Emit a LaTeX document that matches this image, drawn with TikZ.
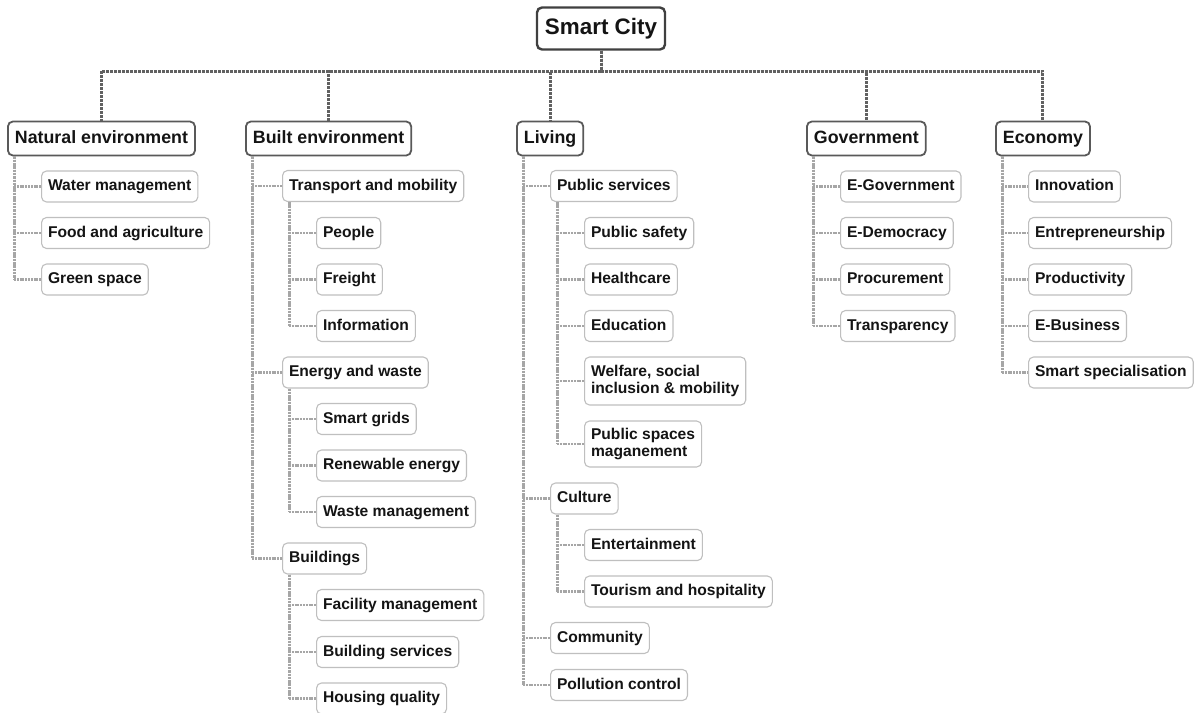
\documentclass[tikz,border=0pt]{standalone}
\usepackage{fontspec}
\setmainfont{Liberation Sans}
\begin{document}
\begin{tikzpicture}[x=1pt,y=-1pt,
  rootbox/.style={draw=black!75, line width=2.4pt, rounded corners=5pt, fill=white, text=black!92,
    font=\fontsize{22.4}{26}\selectfont\bfseries, inner xsep=8pt, minimum height=42pt,
    text height=16pt, text depth=4.5pt},
  topbox/.style={draw=black!65, line width=1.8pt, rounded corners=5pt, fill=white, text=black!92,
    font=\fontsize{17.8}{20}\selectfont\bfseries, inner xsep=7pt, minimum height=34pt, anchor=west,
    text height=13pt, text depth=3.6pt},
  leaf/.style={draw=black!25, line width=1.1pt, rounded corners=5pt, fill=white, text=black!92,
    font=\fontsize{15.6}{16.5}\selectfont\bfseries, inner xsep=6.5pt, minimum height=31pt, anchor=west, align=left,
    text height=11.4pt, text depth=3.2pt},
  twoline/.style={text height=, text depth=},
  topline/.style={draw=black!62, line width=3pt, dash pattern=on 3pt off 1pt},
  childline/.style={draw=black!35, line width=3pt, dash pattern=on 2.5pt off 0.8pt},
  stub/.style={draw=black!35, line width=2.4pt, dash pattern=on 2pt off 0.8pt},
]
\useasboundingbox (0,0) rectangle (1196,712);
\clip (0,0) rectangle (1196,712);
\coordinate (bar) at (0,71);

% root and level 1
\node[rootbox] (root) at (601,28.5) {Smart City};
\node[topbox] (nat) at (7,138.5) {Natural environment};
\node[topbox] (blt) at (245,138.5) {Built environment};
\node[topbox] (liv) at (516,138.5) {Living};
\node[topbox] (gov) at (806,138.5) {Government};
\node[topbox] (eco) at (995,138.5) {Economy};

% Natural environment
\node[leaf] (wm) at (41,186.5) {Water management};
\node[leaf] (fa) at (41,233) {Food and agriculture};
\node[leaf] (gs) at (41,279.5) {Green space};

% Built environment
\node[leaf] (tm) at (282,186) {Transport and mobility};
\node[leaf] (pe) at (316,233) {People};
\node[leaf] (fr) at (316,279.5) {Freight};
\node[leaf] (inf) at (316,326) {Information};
\node[leaf] (ew) at (282,372.5) {Energy and waste};
\node[leaf] (sg) at (316,419) {Smart grids};
\node[leaf] (re) at (316,465.5) {Renewable energy};
\node[leaf] (wam) at (316,512) {Waste management};
\node[leaf] (bu) at (282,558.5) {Buildings};
\node[leaf] (fm) at (316,605) {Facility management};
\node[leaf] (bs) at (316,652) {Building services};
\node[leaf] (hq) at (316,698.5) {Housing quality};

% Living
\node[leaf] (ps) at (550,186) {Public services};
\node[leaf] (saf) at (584,233) {Public safety};
\node[leaf] (hc) at (584,279.5) {Healthcare};
\node[leaf] (edu) at (584,326) {Education};
\node[leaf, twoline, minimum height=48pt] (wel) at (584,381) {Welfare, social\\inclusion \& mobility};
\node[leaf, twoline, minimum height=46pt] (psm) at (584,444) {Public spaces\\maganement};
\node[leaf] (cu) at (550,498.5) {Culture};
\node[leaf] (ent) at (584,545) {Entertainment};
\node[leaf] (tou) at (584,591.5) {Tourism and hospitality};
\node[leaf] (com) at (550,638) {Community};
\node[leaf] (pc) at (550,685) {Pollution control};

% Government
\node[leaf] (eg) at (840,186.5) {E-Government};
\node[leaf] (ed) at (840,233) {E-Democracy};
\node[leaf] (pr) at (840,279.5) {Procurement};
\node[leaf] (tr) at (840,326) {Transparency};

% Economy
\node[leaf] (inn) at (1028,186.5) {Innovation};
\node[leaf] (enp) at (1028,233) {Entrepreneurship};
\node[leaf] (pro) at (1028,279.5) {Productivity};
\node[leaf] (eb) at (1028,326) {E-Business};
\node[leaf] (ss) at (1028,372.5) {Smart specialisation};

% connectors root -> level 1
\foreach \t in {nat,blt,liv,gov,eco}
  \draw[topline] (root.south) -- (root.south |- bar) -| (\t.north);

% connectors level 1 -> level 2 and level 2 -> level 3
\foreach \p/\c in {nat/wm,nat/fa,nat/gs,
                   blt/tm,blt/ew,blt/bu,
                   tm/pe,tm/fr,tm/inf,
                   ew/sg,ew/re,ew/wam,
                   bu/fm,bu/bs,bu/hq,
                   liv/ps,liv/cu,liv/com,liv/pc,
                   ps/saf,ps/hc,ps/edu,ps/wel,ps/psm,
                   cu/ent,cu/tou,
                   gov/eg,gov/ed,gov/pr,gov/tr,
                   eco/inn,eco/enp,eco/pro,eco/eb,eco/ss}
  {\draw[childline] ([xshift=7pt]\p.south west) -- ([xshift=7pt]\p.south west |- \c.west);
   \draw[stub] ([xshift=7pt]\p.south west |- \c.west) -- (\c.west);}
\end{tikzpicture}
\end{document}
